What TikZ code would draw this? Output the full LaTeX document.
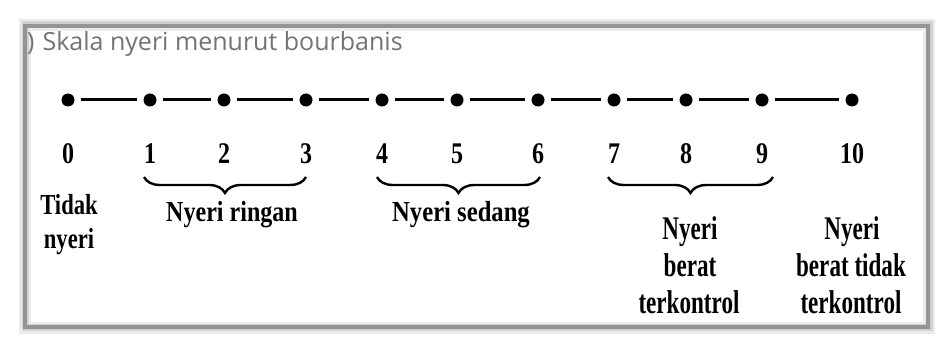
\documentclass[tikz,border=0pt]{standalone}
\usepackage{fontspec}
\setmainfont{Liberation Serif}
\newfontfamily\titlefont{Open Sans}
\usetikzlibrary{decorations.pathreplacing}
\newcommand\labtext[3]{\scalebox{#1}[1]{\fontsize{#2}{#2}\selectfont\bfseries #3}}
\tikzset{
  dot/.style={circle,fill=black,inner sep=0pt,minimum size=13pt},
  link/.style={line width=3pt,shorten >=6pt,shorten <=6pt},
  num/.style={font=\fontsize{30}{30}\selectfont\bfseries,inner sep=0pt,anchor=base},
  lbl/.style={inner sep=0pt,anchor=base},
  brc/.style={line width=2.4pt,decorate,decoration={brace,mirror,amplitude=16pt}},
}
\begin{document}
\begin{tikzpicture}[x=1pt,y=-1pt]
\useasboundingbox (0,0) rectangle (938,339);
% frame with shadow
\draw[line width=12pt,black!8] (25,25) rectangle (929,328);
\draw[line width=7pt,black!18] (25,25) rectangle (929,328);
\draw[line width=4pt,black!42] (25,26) rectangle (928,327);
% title
\node[anchor=base west,inner sep=0pt,text=black!55,font=\titlefont\fontsize{25}{25}\selectfont] (title) at (27,51) {)\hspace{8pt}Skala nyeri menurut bourbanis};
% dots and numbers
\foreach \i/\x in {0/68,1/150,2/224,3/306,4/382,5/457,6/538,7/614,8/686,9/762,10/852}{
  \node[dot] (d\i) at (\x,100) {};
  \node[num] (n\i) at (\x,164) {\scalebox{0.8}[1]{\i}};
}
\foreach \i [evaluate=\i as \j using int(\i+1)] in {0,...,9}
  \draw[link] (d\i) -- (d\j);
% braces
\coordinate (b1l) at (144,177); \coordinate (b1r) at (306,177);
\coordinate (b2l) at (377,177); \coordinate (b2r) at (540,177);
\coordinate (b3l) at (608,177); \coordinate (b3r) at (773,177);
\draw[brc] (b1l) -- (b1r);
\draw[brc] (b2l) -- (b2r);
\draw[brc] (b3l) -- (b3r);
% labels
\node[lbl] (l0a) at (69,215) {\labtext{0.78}{29}{Tidak}};
\node[lbl] (l0b) at (69,249) {\labtext{0.78}{29}{nyeri}};
\node[lbl] (l1) at (232,222) {\labtext{0.83}{29}{Nyeri ringan}};
\node[lbl] (l2) at (461,222) {\labtext{0.85}{29}{Nyeri sedang}};
\node[lbl] (l3a) at (690,240) {\labtext{0.70}{33}{Nyeri}};
\node[lbl] (l3b) at (690,277) {\labtext{0.70}{33}{berat}};
\node[lbl] (l3c) at (689,314) {\labtext{0.70}{33}{terkontrol}};
\node[lbl] (l4a) at (852,240) {\labtext{0.70}{33}{Nyeri}};
\node[lbl] (l4b) at (851,277) {\labtext{0.70}{33}{berat tidak}};
\node[lbl] (l4c) at (851,314) {\labtext{0.70}{33}{terkontrol}};
\end{tikzpicture}
\end{document}
